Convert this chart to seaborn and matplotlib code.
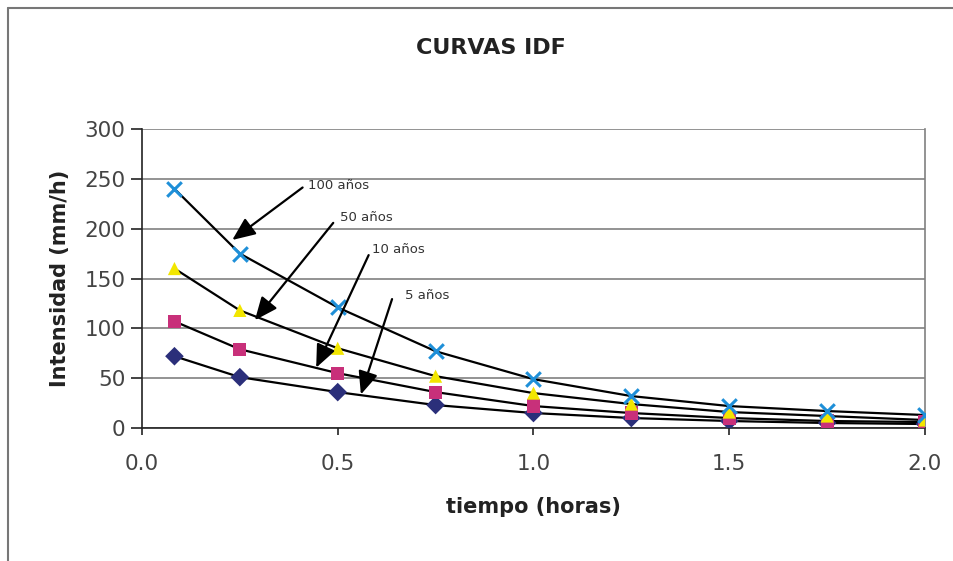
import pandas as pd
import matplotlib.pyplot as plt
import seaborn as sns
from matplotlib.lines import Line2D

# Duration (hours) and intensity (mm/h)
tiempo = [0.083, 0.25, 0.5, 0.75, 1.0, 1.25, 1.5, 1.75, 2.0]
i_5 = [72, 51, 36, 23, 15, 10, 7, 5, 4]
i_10 = [107, 79, 55, 36, 22, 15, 10, 7, 6]
i_50 = [160, 118, 80, 52, 35, 24, 16, 12, 8]
i_100 = [240, 175, 121, 77, 49, 32, 22, 17, 13]

series = ["5 años", "10 años", "50 años", "100 años"]
valores = [i_5, i_10, i_50, i_100]

rows = []
for name, vals in zip(series, valores):
    for t, v in zip(tiempo, vals):
        rows.append({"tiempo": t, "intensidad": v, "periodo": name})
df = pd.DataFrame(rows)

sns.set_style("white")
plt.rcParams["font.family"] = ["DejaVu Sans"]

fig = plt.figure(figsize=(9.54, 5.61), dpi=100)
ax = fig.add_axes([0.1488, 0.2371, 0.8208, 0.5329])

# black curves
sns.lineplot(data=df, x="tiempo", y="intensidad", units="periodo", estimator=None,
             color="black", linewidth=1.6, ax=ax, legend=False, zorder=2)

colors = {"5 años": "#2B2F7A", "10 años": "#C8307A", "50 años": "#F2E600", "100 años": "#1E8FD8"}
markers = {"5 años": "D", "10 años": "s", "50 años": "^", "100 años": "X"}
for name in series:
    sub = df[df["periodo"] == name]
    if name == "100 años":
        ax.scatter(sub["tiempo"], sub["intensidad"], marker="x", s=110,
                   color=colors[name], linewidths=2.2, zorder=3)
    else:
        sns.scatterplot(data=sub, x="tiempo", y="intensidad", marker=markers[name],
                        s=90, color=colors[name], edgecolor="none", ax=ax,
                        legend=False, zorder=3)

ax.set_xlim(0, 2.0)
ax.set_ylim(0, 300)
ax.set_xticks([0.0, 0.5, 1.0, 1.5, 2.0])
ax.set_xticklabels(["0.0", "0.5", "1.0", "1.5", "2.0"])
ax.set_yticks(range(0, 301, 50))
ax.yaxis.grid(True, color="#808080", linewidth=1.2)
ax.xaxis.grid(False)

for s in ["left", "bottom"]:
    ax.spines[s].set_color("#222222")
    ax.spines[s].set_linewidth(1.2)
ax.spines["top"].set_visible(False)
ax.spines["right"].set_color("#808080")
ax.spines["right"].set_linewidth(1.2)

ax.tick_params(axis="y", direction="out", length=8, width=1.2, color="#222222",
               labelsize=15.5, labelcolor="#444444", pad=4, left=True)
ax.tick_params(axis="x", direction="out", length=5, width=1.2, color="#222222",
               labelsize=15.5, labelcolor="#444444", pad=14, bottom=True)

ax.set_xlabel("tiempo (horas)", fontsize=15, fontweight="bold", color="#222222", labelpad=16)
ax.set_ylabel("Intensidad (mm/h)", fontsize=15, fontweight="bold", color="#222222", labelpad=10)
fig.text(0.515, 0.915, "CURVAS IDF", ha="center", va="center", fontsize=16,
         fontweight="bold", color="#222222")

# arrows with return-period labels
notas = [
    ("100 años", (0.424, 243), (0.416, 243), (0.225, 187)),
    ("50 años", (0.506, 211), (0.493, 208), (0.284, 106)),
    ("10 años", (0.587, 179), (0.582, 176), (0.442, 58)),
    ("5 años", (0.672, 133), (0.641, 132), (0.557, 31)),
]
for label, txt, start, tip in notas:
    ax.annotate("", xy=tip, xytext=start,
                arrowprops=dict(arrowstyle="-|>,head_length=1.4,head_width=0.6",
                                color="black", lw=1.6), zorder=4)
    ax.text(txt[0], txt[1], label, fontsize=9.5, color="#333333", va="center", ha="left")

# outer frame of the scanned chart
fig.add_artist(Line2D([8 / 954, 8 / 954], [0, 1 - 8 / 561], transform=fig.transFigure,
                      color="#777777", linewidth=1.5))
fig.add_artist(Line2D([8 / 954, 1], [1 - 8 / 561, 1 - 8 / 561], transform=fig.transFigure,
                      color="#777777", linewidth=1.5))

fig.savefig("out.png", dpi=100)
